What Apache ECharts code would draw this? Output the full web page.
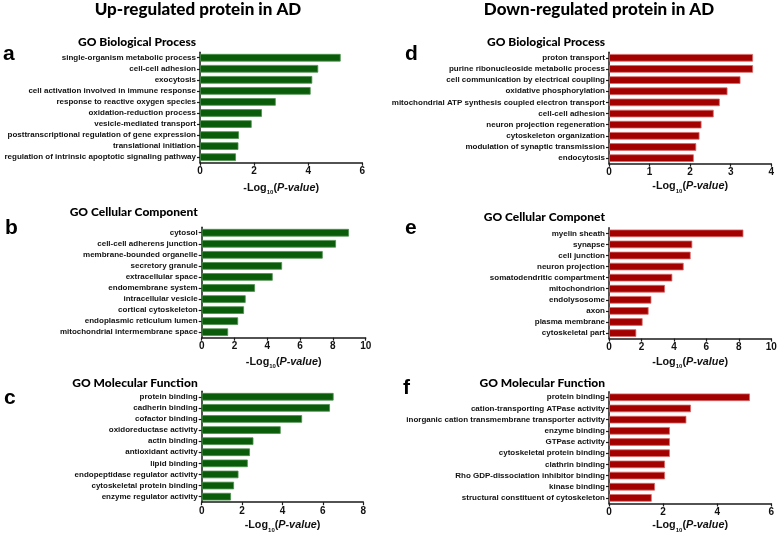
<!DOCTYPE html>
<html><head><meta charset="utf-8">
<script src="https://cdn.jsdelivr.net/npm/echarts@6/dist/echarts.min.js"></script>
<style>html,body{margin:0;padding:0;background:#fff}#c{width:778px;height:533px}</style>
</head><body><div id="c"></div>
<script>
// ---- data ----
const catsA = ['single-organism metabolic process','cell-cell adhesion','exocytosis','cell activation involved in immune response','response to reactive oxygen species','oxidation-reduction process','vesicle-mediated transport','posttranscriptional regulation of gene expression','translational initiation','regulation of intrinsic apoptotic signaling pathway'];
const valsA = [5.2,4.37,4.15,4.09,2.80,2.29,1.91,1.44,1.42,1.33];
const catsB = ['cytosol','cell-cell adherens junction','membrane-bounded organelle','secretory granule','extracellular space','endomembrane system','intracellular vesicle','cortical cytoskeleton','endoplasmic reticulum lumen','mitochondrial intermembrane space'];
const valsB = [8.98,8.19,7.38,4.90,4.33,3.25,2.68,2.58,2.22,1.61];
const catsC = ['protein binding','cadherin binding','cofactor binding','oxidoreductase activity','actin binding','antioxidant activity','lipid binding','endopeptidase regulator activity','cytoskeletal protein binding','enzyme regulator activity'];
const valsC = [6.53,6.35,4.97,3.91,2.56,2.39,2.28,1.82,1.60,1.45];
const catsD = ['proton transport','purine ribonucleoside metabolic process','cell communication by electrical coupling','oxidative phosphorylation','mitochondrial ATP synthesis coupled electron transport','cell-cell adhesion','neuron projection regeneration','cytoskeleton organization','modulation of synaptic transmission','endocytosis'];
const valsD = [3.55,3.55,3.24,2.92,2.73,2.58,2.28,2.23,2.15,2.09];
const catsE = ['myelin sheath','synapse','cell junction','neuron projection','somatodendritic compartment','mitochondrion','endolysosome','axon','plasma membrane','cytoskeletal part'];
const valsE = [8.28,5.13,5.03,4.60,3.90,3.45,2.61,2.44,2.07,1.68];
const catsF = ['protein binding','cation-transporting ATPase activity','inorganic cation transmembrane transporter activity','enzyme binding','GTPase activity','cytoskeletal protein binding','clathrin binding','Rho GDP-dissociation inhibitor binding','kinase binding','structural constituent of cytoskeleton'];
const valsF = [5.21,3.03,2.86,2.25,2.25,2.25,2.07,2.07,1.70,1.58];
const axisMax = [6,10,8,4,10,6];
const axisStep = [2,2,2,1,2,2];
const mainTitles = ['Up-regulated protein in AD','Down-regulated protein in AD'];
const panelTitles = ['GO Biological Process','GO Cellular Component','GO Molecular Function','GO Biological Process','GO Cellular Componet','GO Molecular Function'];
const panelLetters = ['a','b','c','d','e','f'];

// ---- layout ----
const cats = [catsA,catsB,catsC,catsD,catsE,catsF];
const vals = [valsA,valsB,valsC,valsD,valsE,valsF];
const GREEN = {fill:'#0a5c0a', border:'#4d8f4d'};
const RED = {fill:'#a30000', border:'#d86a6a'};
const layout = [
  {left:200, top:52.2, width:162.3, height:110.5, col:GREEN, titleY:41.7, letter:[3,43.3], gap:19},
  {left:201.7, top:227.2, width:164, height:110.5, col:GREEN, titleY:212.3, letter:[5,218], gap:18},
  {left:201.7, top:391.2, width:161.6, height:111, col:GREEN, titleY:382.7, letter:[4,388], gap:17},
  {left:609, top:52.2, width:162.3, height:111.5, col:RED, titleY:41.7, letter:[405,43.3], gap:16.5},
  {left:609, top:227.8, width:162.3, height:110.8, col:RED, titleY:216.7, letter:[405,218], gap:17},
  {left:609, top:391.7, width:162.3, height:111.8, col:RED, titleY:382.7, letter:[403,378], gap:16}
];
const LBL = '"Liberation Sans", Arial, sans-serif';
const TTL = 'Lato, "Open Sans", sans-serif';
const grid=[], xAxis=[], yAxis=[], series=[], graphic=[];
layout.forEach((L,i)=>{
  grid.push({left:L.left, top:L.top, width:L.width, height:L.height, containLabel:false, outerBoundsMode:'none'});
  xAxis.push({type:'value', gridIndex:i, min:0, max:axisMax[i], interval:axisStep[i],
    splitLine:{show:false},
    axisLine:{show:true, onZero:false, lineStyle:{color:'#1a1a1a', width:1.5}},
    axisTick:{show:true, length:3, lineStyle:{color:'#1a1a1a', width:1.2}},
    axisLabel:{fontFamily:LBL, fontWeight:'bold', fontSize:10, color:'#111', margin:4},
    name:'{n|-Log}{s|10}{n|(}{i|P-value}{n|)}', nameLocation:'middle', nameGap:L.gap,
    nameTextStyle:{rich:{
      n:{fontFamily:LBL, fontWeight:'bold', fontSize:10.8, color:'#111', lineHeight:12, verticalAlign:'middle'},
      i:{fontFamily:LBL, fontWeight:'bold', fontStyle:'italic', fontSize:10.8, color:'#111', lineHeight:12, verticalAlign:'middle'},
      s:{fontFamily:LBL, fontWeight:'bold', fontSize:6, color:'#111', lineHeight:7, verticalAlign:'bottom', padding:[0,0,-2,0]}
    }}
  });
  yAxis.push({type:'category', gridIndex:i, data:cats[i], inverse:true,
    axisLine:{show:true, lineStyle:{color:'#1a1a1a', width:1.5}},
    axisTick:{show:true, alignWithLabel:true, length:3, lineStyle:{color:'#1a1a1a', width:1.2}},
    axisLabel:{fontFamily:LBL, fontWeight:'bold', fontSize:8, color:'#111', margin:4, interval:0},
    splitLine:{show:false}
  });
  series.push({type:'bar', xAxisIndex:i, yAxisIndex:i, data:vals[i], barWidth:7.6,
    itemStyle:{color:L.col.fill, borderColor:L.col.border, borderWidth:0.8}, silent:true, animation:false});
  graphic.push({type:'text', x:L.left-4, y:L.titleY, style:{text:panelTitles[i], font:'900 12px '+TTL, fill:'#000', align:'right', verticalAlign:'middle'}});
  graphic.push({type:'text', x:L.letter[0], y:L.letter[1], style:{text:panelLetters[i], font:'bold 21px '+LBL, fill:'#000', align:'left', verticalAlign:'alphabetic'}});
});
graphic.push({type:'text', x:198, y:9.5, style:{text:mainTitles[0], font:'900 17px '+TTL, fill:'#000', align:'center', verticalAlign:'middle'}});
graphic.push({type:'text', x:599, y:9.5, style:{text:mainTitles[1], font:'900 17px '+TTL, fill:'#000', align:'center', verticalAlign:'middle'}});

const chart = echarts.init(document.getElementById('c'), null, {renderer:'canvas'});
chart.setOption({animation:false, backgroundColor:'#fff', grid, xAxis, yAxis, series, graphic});
</script></body></html>
